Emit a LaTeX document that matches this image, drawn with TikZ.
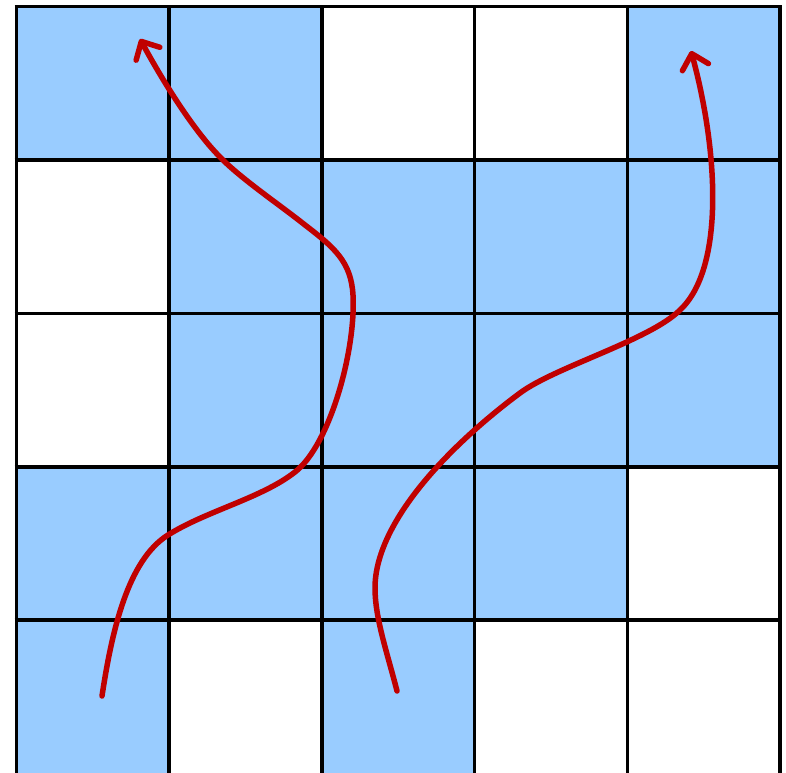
\documentclass[tikz,border=0pt]{standalone}
\usetikzlibrary{arrows.meta}
\definecolor{cellblue}{HTML}{99CCFF}
\definecolor{pathred}{HTML}{C00000}
\begin{document}
\begin{tikzpicture}[x=1pt,y=-1pt,
  gridline/.style={line width=3.6pt,black},
  flow/.style={line width=5.5pt,pathred,line cap=round,line join=round,
    -{Straight Barb[length=14pt,width=27pt,line width=5.5pt,round]}}]
\useasboundingbox (0,0) rectangle (786,772);
\begin{scope}
\clip (0,0) rectangle (786,772);
\def\cw{152.7}
\def\ch{153.4}
% blue cells: row col
\foreach \r/\c in {0/0,0/1,0/4,1/1,1/2,1/3,1/4,2/1,2/2,2/3,2/4,3/0,3/1,3/2,3/3,4/0,4/2}{
  \fill[cellblue] ({16.5+\c*\cw},{6.5+\r*\ch}) rectangle ++(\cw,\ch);
}
\foreach \i in {0,...,5}{
  \draw[gridline] ({16.5+\i*\cw},6.5) -- ({16.5+\i*\cw},790);
}
\foreach \i in {0,...,4}{
  \draw[gridline] (14.7,{6.5+\i*\ch}) -- (781.8,{6.5+\i*\ch});
}
\coordinate (s1) at (102,696);
\coordinate (e1) at (140,39);
\coordinate (s2) at (397,691);
\coordinate (e2) at (691,51);
\draw[flow] (s1) .. controls (112,630) and (128,560) .. (168,535)
  .. controls (206,511) and (262,498) .. (295,472)
  .. controls (330,445) and (356,350) .. (353,295)
  .. controls (351,262) and (335,248) .. (305,225)
  .. controls (280,205) and (240,178) .. (220,157)
  .. controls (195,132) and (165,85) .. (e1);
\draw[flow] (s2) .. controls (387,652) and (375,618) .. (375,588)
  .. controls (375,522) and (450,445) .. (520,393)
  .. controls (555,367) and (650,340) .. (680,310)
  .. controls (725,268) and (718,150) .. (e2);
\end{scope}
\end{tikzpicture}
\end{document}
